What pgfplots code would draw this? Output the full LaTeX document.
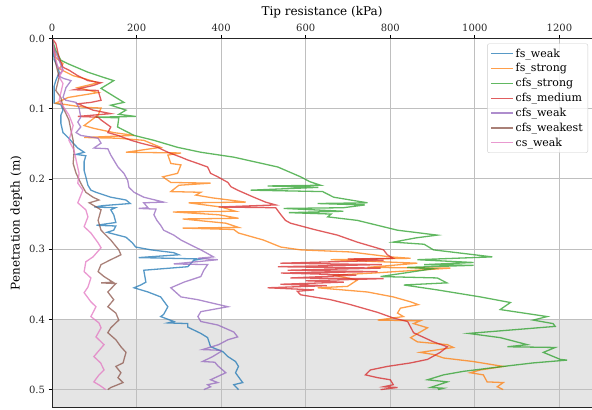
\documentclass[border=0pt]{standalone}
\usepackage{pgfplots}
\pgfplotsset{compat=1.18}
\usepackage{fontspec}
\setmainfont{DejaVu Serif}
\definecolor{tabblue}{RGB}{31,119,180}
\definecolor{taborange}{RGB}{255,127,14}
\definecolor{tabgreen}{RGB}{44,160,44}
\definecolor{tabred}{RGB}{214,39,40}
\definecolor{tabpurple}{RGB}{148,103,189}
\definecolor{tabbrown}{RGB}{140,86,75}
\definecolor{tabpink}{RGB}{227,119,194}
\begin{document}
\fontsize{10}{12}\selectfont
\begin{tikzpicture}
\begin{axis}[name=ax, set layers,
  width=540pt, height=369pt, scale only axis,
  xmin=0, xmax=1277, ymin=0, ymax=0.5255, y dir=reverse,
  xtick={0,200,400,600,800,1000,1200}, ytick={0,0.1,0.2,0.3,0.4,0.5},
  xtick pos=upper, xticklabel pos=upper, ytick pos=left, tick align=outside,
  major tick length=3.5pt, tick style={black, line width=0.8pt},
  grid=major, grid style={color=black!25, line width=1pt},
  axis line style={draw=none},
  xlabel={Tip resistance (kPa)}, ylabel={Penetration depth (m)},
  /pgf/number format/assume math mode=true,
  xticklabel style={/pgf/number format/1000 sep={}},
  yticklabel style={/pgf/number format/fixed,/pgf/number format/fixed zerofill,/pgf/number format/precision=1},
  ticklabel style={font=\fontsize{10}{12}\selectfont, text=black!85},
  xlabel style={font=\fontsize{12}{14}\selectfont, yshift=-1pt},
  ylabel style={font=\fontsize{12}{14}\selectfont},
  every axis plot/.append style={line width=1.3pt, draw opacity=0.75, no markers, sharp plot},
  legend cell align=left,
  legend image code/.code={\draw[#1] (0pt,0pt) -- (22pt,0pt);},
  legend style={at={(1,1)}, anchor=north east, xshift=-4pt, yshift=-5pt,
    draw=black!20, rounded corners=2pt, fill=white, fill opacity=0.8, draw opacity=1, text opacity=1,
    font=\fontsize{11}{13}\selectfont, row sep=1pt, inner sep=3pt},
]
\addplot[draw=none, fill=black!10, fill opacity=1, forget plot, on layer=axis background] coordinates {(0,0.4) (1277,0.4) (1277,0.5255) (0,0.5255)};

% fs_weak
\addplot[color=tabblue] coordinates {(0,0) (2,0.007) (5,0.030) (14,0.041) (17,0.048) (9,0.060) (5,0.068) (5,0.092) (21,0.094) (26,0.102) (21,0.109) (21,0.121) (26,0.134) (38,0.141) (50,0.149) (61,0.156) (76,0.162) (57,0.165) (80,0.167) (76,0.175) (76,0.188) (80,0.197) (85,0.209) (92,0.216) (104,0.219) (139,0.226) (175,0.230) (185,0.235) (120,0.238) (100,0.240) (150,0.241) (139,0.244) (146,0.251) (151,0.262) (105,0.266) (151,0.267) (146,0.273) (130,0.276) (175,0.283) (190,0.291) (198,0.297) (234,0.301) (288,0.305) (300,0.308) (205,0.312) (352,0.314) (335,0.316) (321,0.325) (217,0.330) (222,0.347) (210,0.351) (194,0.355) (227,0.361) (257,0.368) (274,0.382) (264,0.393) (257,0.396) (288,0.403) (274,0.405) (321,0.406) (321,0.411) (352,0.420) (368,0.426) (375,0.439) (404,0.446) (416,0.453) (434,0.460) (441,0.467) (434,0.476) (446,0.486) (451,0.490) (430,0.493) (441,0.500)};

% fs_strong
\addplot[color=taborange] coordinates {(0,0) (9,0.027) (26,0.036) (17,0.043) (50,0.053) (76,0.057) (109,0.063) (61,0.070) (109,0.077) (38,0.084) (9,0.092) (76,0.098) (116,0.099) (109,0.109) (76,0.124) (99,0.128) (146,0.134) (194,0.138) (76,0.141) (156,0.142) (217,0.145) (257,0.155) (175,0.162) (305,0.163) (274,0.166) (281,0.178) (305,0.180) (297,0.192) (262,0.197) (281,0.205) (375,0.206) (300,0.209) (281,0.218) (352,0.219) (340,0.223) (380,0.227) (458,0.233) (323,0.234) (400,0.240) (434,0.246) (286,0.247) (394,0.251) (441,0.256) (309,0.257) (411,0.263) (441,0.269) (309,0.270) (430,0.272) (441,0.277) (500,0.287) (541,0.297) (588,0.301) (706,0.304) (800,0.311) (848,0.313) (659,0.315) (864,0.320) (746,0.326) (942,0.327) (760,0.334) (666,0.337) (722,0.344) (699,0.353) (628,0.355) (746,0.361) (807,0.368) (848,0.375) (866,0.379) (824,0.384) (817,0.391) (831,0.396) (770,0.401) (871,0.402) (855,0.406) (888,0.412) (848,0.426) (864,0.432) (935,0.436) (949,0.440) (871,0.447) (902,0.450) (926,0.455) (996,0.460) (1067,0.467) (1013,0.472) (989,0.476) (1020,0.479) (1029,0.489) (1067,0.490) (1053,0.496) (1067,0.500)};

% cfs_strong
\addplot[color=tabgreen] coordinates {(0,0) (5,0.010) (9,0.017) (21,0.031) (38,0.036) (85,0.048) (120,0.055) (146,0.060) (116,0.071) (151,0.084) (170,0.091) (139,0.095) (175,0.102) (158,0.108) (198,0.111) (104,0.112) (158,0.113) (155,0.126) (194,0.138) (241,0.145) (297,0.155) (352,0.162) (430,0.169) (534,0.183) (588,0.197) (610,0.204) (635,0.209) (510,0.210) (630,0.212) (470,0.216) (640,0.218) (666,0.226) (746,0.234) (628,0.235) (740,0.237) (689,0.241) (548,0.242) (689,0.246) (560,0.248) (660,0.250) (652,0.254) (722,0.259) (817,0.273) (911,0.280) (860,0.284) (807,0.290) (880,0.293) (902,0.301) (1041,0.311) (864,0.315) (997,0.319) (880,0.322) (997,0.323) (840,0.326) (900,0.328) (777,0.339) (911,0.341) (934,0.348) (832,0.351) (911,0.358) (1013,0.368) (1084,0.376) (1060,0.386) (1171,0.396) (1138,0.401) (1185,0.406) (1190,0.410) (985,0.420) (1060,0.426) (1124,0.436) (1077,0.439) (1190,0.440) (1162,0.447) (1202,0.457) (1218,0.458) (1138,0.462) (1067,0.467) (973,0.474) (926,0.479) (888,0.486) (935,0.489) (895,0.497) (926,0.498) (913,0.500)};

% cfs_medium
\addplot[color=tabred] coordinates {(0,0) (9,0.007) (17,0.028) (26,0.041) (40,0.045) (61,0.053) (85,0.060) (116,0.063) (97,0.067) (52,0.073) (109,0.074) (116,0.088) (92,0.091) (61,0.093) (97,0.102) (139,0.107) (61,0.111) (109,0.112) (116,0.116) (139,0.126) (132,0.134) (156,0.138) (187,0.145) (210,0.149) (250,0.155) (274,0.162) (305,0.169) (321,0.173) (345,0.178) (368,0.183) (375,0.192) (392,0.197) (416,0.205) (423,0.211) (439,0.216) (477,0.226) (505,0.233) (529,0.237) (394,0.240) (529,0.241) (540,0.250) (552,0.259) (564,0.263) (620,0.272) (675,0.280) (722,0.290) (784,0.301) (793,0.308) (807,0.313) (700,0.314) (784,0.316) (540,0.320) (780,0.322) (534,0.325) (777,0.327) (557,0.330) (770,0.332) (541,0.334) (720,0.337) (564,0.341) (784,0.342) (600,0.345) (690,0.347) (540,0.350) (650,0.352) (510,0.355) (620,0.358) (580,0.360) (588,0.365) (659,0.372) (706,0.379) (770,0.390) (807,0.398) (841,0.403) (848,0.411) (855,0.419) (902,0.432) (935,0.439) (918,0.447) (888,0.457) (848,0.462) (793,0.467) (753,0.472) (741,0.479) (770,0.483) (800,0.486) (807,0.493) (784,0.496) (817,0.497) (777,0.500)};

% cfs_weak
\addplot[color=tabpurple] coordinates {(0,0) (5,0.015) (14,0.027) (26,0.045) (14,0.053) (28,0.057) (45,0.060) (33,0.070) (26,0.084) (33,0.088) (57,0.091) (64,0.099) (68,0.112) (61,0.119) (68,0.126) (57,0.134) (68,0.138) (109,0.142) (116,0.149) (99,0.156) (132,0.157) (139,0.166) (146,0.173) (156,0.183) (170,0.192) (179,0.202) (182,0.212) (194,0.219) (217,0.226) (264,0.233) (217,0.234) (227,0.241) (205,0.242) (246,0.243) (241,0.251) (248,0.259) (257,0.266) (264,0.273) (288,0.280) (305,0.287) (328,0.294) (352,0.301) (382,0.311) (345,0.313) (392,0.315) (288,0.321) (368,0.322) (359,0.330) (352,0.339) (312,0.347) (281,0.355) (305,0.368) (345,0.372) (416,0.382) (352,0.389) (345,0.396) (352,0.403) (392,0.408) (430,0.418) (439,0.425) (416,0.429) (394,0.436) (356,0.443) (399,0.444) (399,0.446) (380,0.453) (356,0.460) (385,0.461) (392,0.466) (411,0.476) (375,0.486) (392,0.490) (368,0.493) (375,0.496) (359,0.500)};

% cfs_weakest
\addplot[color=tabbrown] coordinates {(0,0) (5,0.020) (9,0.036) (17,0.055) (9,0.074) (21,0.084) (26,0.098) (33,0.107) (40,0.116) (45,0.131) (50,0.145) (52,0.163) (50,0.178) (57,0.192) (68,0.206) (80,0.219) (97,0.226) (111,0.230) (88,0.234) (116,0.244) (109,0.259) (116,0.273) (139,0.287) (158,0.301) (163,0.308) (139,0.315) (116,0.322) (109,0.332) (123,0.339) (144,0.347) (116,0.348) (151,0.349) (132,0.361) (146,0.372) (132,0.382) (151,0.391) (158,0.401) (139,0.412) (132,0.419) (151,0.429) (163,0.439) (175,0.447) (168,0.462) (151,0.467) (163,0.476) (156,0.483) (168,0.490) (139,0.497) (132,0.500)};

% cs_weak
\addplot[color=tabpink] coordinates {(0,0) (5,0.020) (14,0.041) (26,0.045) (17,0.055) (26,0.064) (21,0.077) (17,0.088) (28,0.098) (40,0.109) (50,0.124) (45,0.135) (40,0.145) (52,0.159) (57,0.173) (64,0.192) (61,0.206) (73,0.216) (61,0.234) (80,0.244) (85,0.254) (76,0.268) (92,0.277) (109,0.291) (116,0.298) (97,0.311) (80,0.318) (76,0.332) (92,0.341) (85,0.354) (76,0.362) (92,0.375) (104,0.382) (92,0.396) (111,0.405) (116,0.412) (104,0.425) (123,0.436) (99,0.453) (115,0.462) (123,0.472) (110,0.480) (99,0.489) (113,0.494) (127,0.500)};

\legend{fs\_weak, fs\_strong, cfs\_strong, cfs\_medium, cfs\_weak, cfs\_weakest, cs\_weak}
\end{axis}
\draw[black!85, line width=1pt] (ax.north west) -- (ax.north east);
\draw[black!85, line width=1pt] (ax.south west) -- (ax.south east);
\draw[black!85, line width=1pt] (ax.south west) -- (ax.north west);
\pgfresetboundingbox
\path[use as bounding box] ([xshift=-52pt,yshift=-1.5pt]ax.south west) rectangle ([yshift=38.5pt]ax.north east);
\end{tikzpicture}
\end{document}
